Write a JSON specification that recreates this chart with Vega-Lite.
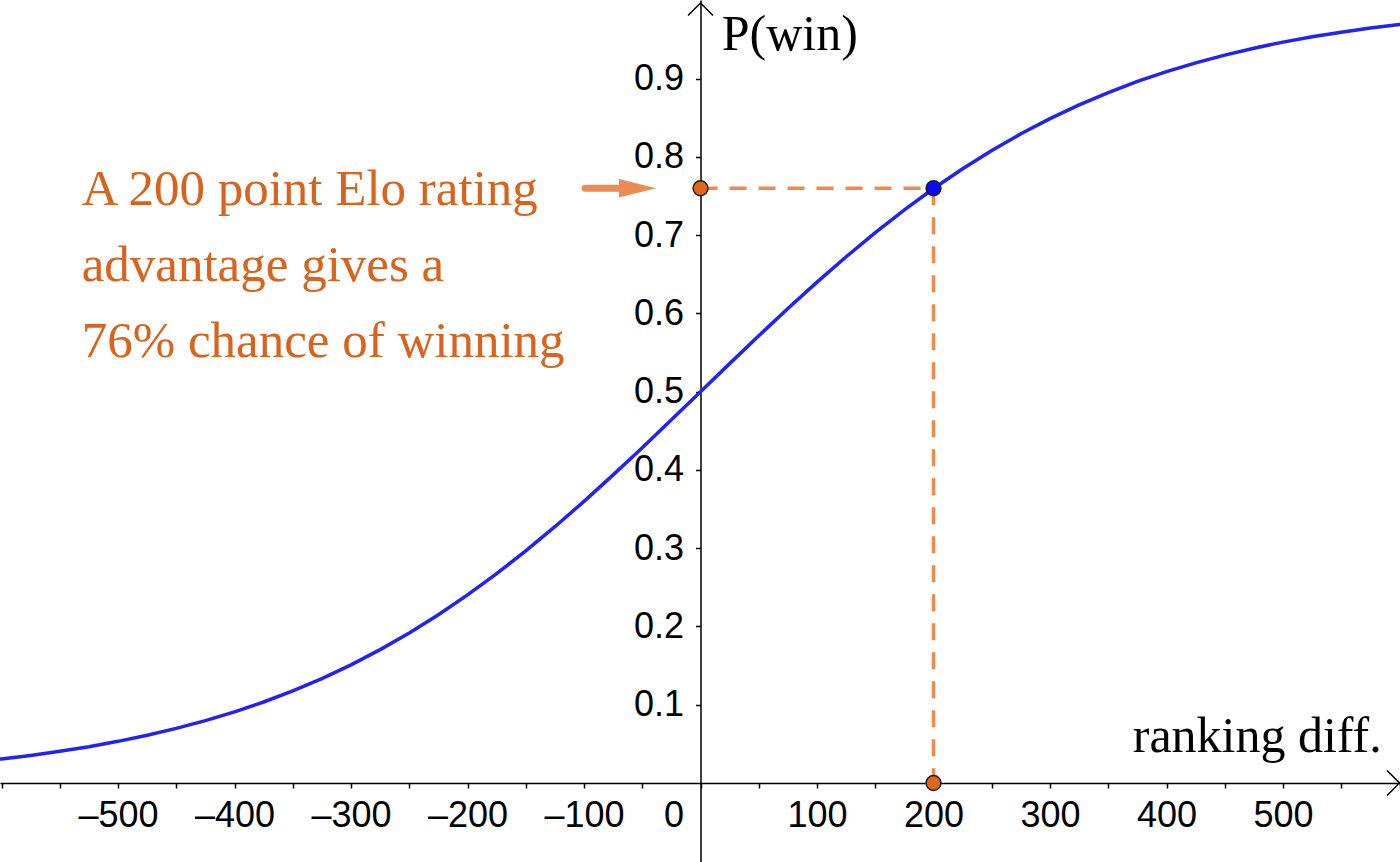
{
  "$schema": "https://vega.github.io/schema/vega-lite/v6.json",
  "width": 1400,
  "height": 862,
  "autosize": {"type": "none"},
  "padding": 0,
  "background": "white",
  "config": {"view": {"stroke": null}},
  "datasets": {
    "curve": [
      {"x": -625, "p": 0.0267}, {"x": -600, "p": 0.0307}, {"x": -575, "p": 0.0352}, {"x": -550, "p": 0.0405},
      {"x": -525, "p": 0.0464}, {"x": -500, "p": 0.0532}, {"x": -475, "p": 0.0610}, {"x": -450, "p": 0.0698},
      {"x": -425, "p": 0.0797}, {"x": -400, "p": 0.0909}, {"x": -375, "p": 0.1035}, {"x": -350, "p": 0.1177},
      {"x": -325, "p": 0.1334}, {"x": -300, "p": 0.1510}, {"x": -275, "p": 0.1704}, {"x": -250, "p": 0.1917},
      {"x": -225, "p": 0.2150}, {"x": -200, "p": 0.2403}, {"x": -175, "p": 0.2675}, {"x": -150, "p": 0.2966},
      {"x": -125, "p": 0.3275}, {"x": -100, "p": 0.3599}, {"x": -75, "p": 0.3937}, {"x": -50, "p": 0.4285},
      {"x": -25, "p": 0.4641}, {"x": 0, "p": 0.5}, {"x": 25, "p": 0.5359}, {"x": 50, "p": 0.5715},
      {"x": 75, "p": 0.6063}, {"x": 100, "p": 0.6401}, {"x": 125, "p": 0.6725}, {"x": 150, "p": 0.7034},
      {"x": 175, "p": 0.7325}, {"x": 200, "p": 0.7597}, {"x": 225, "p": 0.7850}, {"x": 250, "p": 0.8083},
      {"x": 275, "p": 0.8296}, {"x": 300, "p": 0.8490}, {"x": 325, "p": 0.8666}, {"x": 350, "p": 0.8823},
      {"x": 375, "p": 0.8965}, {"x": 400, "p": 0.9091}, {"x": 425, "p": 0.9203}, {"x": 450, "p": 0.9302},
      {"x": 475, "p": 0.9390}, {"x": 500, "p": 0.9468}, {"x": 525, "p": 0.9536}, {"x": 550, "p": 0.9595},
      {"x": 575, "p": 0.9648}, {"x": 600, "p": 0.9693}, {"x": 625, "p": 0.9733}
    ],
    "guides": [
      {"x": 0, "p": 0.76, "x2": 200, "p2": 0.76},
      {"x": 200, "p": 0.76, "x2": 200, "p2": 0}
    ],
    "points": [
      {"x": 0, "p": 0.76, "kind": "axis"},
      {"x": 200, "p": 0, "kind": "axis"},
      {"x": 200, "p": 0.76, "kind": "curve"}
    ],
    "titles": [
      {"x": 18.2, "p": 0.9366, "label": "P(win)"},
      {"x": 371, "p": 0.0396, "label": "ranking diff."}
    ],
    "note": [
      {"x": -531.2, "p": 0.7386, "lines": ["A 200 point Elo rating", "advantage gives a", "76% chance of winning"]}
    ]
  },
  "layer": [
    {
      "data": {"name": "curve"},
      "mark": {"type": "line", "color": "#2222F5", "strokeWidth": 3.5, "clip": true},
      "encoding": {
        "x": {
          "field": "x", "type": "quantitative",
          "scale": {"domain": [-601.3, 600.4], "nice": false, "zero": false},
          "axis": {
            "orient": "bottom", "offset": -79, "title": null, "grid": false,
            "values": [-600, -550, -500, -450, -400, -350, -300, -250, -200, -150, -100, -50, 0, 50, 100, 150, 200, 250, 300, 350, 400, 450, 500, 550, 600],
            "labelExpr": "(datum.value % 100 != 0 || abs(datum.value) > 500) ? '' : (datum.value < 0 ? '–' + abs(datum.value) : '' + datum.value)",
            "labelOverlap": false, "labelFlush": false, "labelBound": false,
            "labelFont": "Liberation Sans", "labelFontSize": 36, "labelColor": "#000",
            "labelPadding": 10,
            "labelOffset": {"condition": {"test": "datum.value == 0", "value": -27}, "value": 0},
            "tickSize": 5, "tickWidth": 1.5, "tickColor": "#000",
            "domainColor": "#000", "domainWidth": 1.5
          }
        },
        "y": {
          "field": "p", "type": "quantitative",
          "scale": {"domain": [-0.101, 1.0006], "nice": false, "zero": false},
          "axis": {
            "orient": "left", "offset": -700.5, "title": null, "grid": false,
            "values": [0.1, 0.2, 0.3, 0.4, 0.5, 0.6, 0.7, 0.8, 0.9],
            "format": ".1f",
            "labelOverlap": false, "labelFlush": false, "labelBound": false,
            "labelFont": "Liberation Sans", "labelFontSize": 36, "labelColor": "#000",
            "labelPadding": 12,
            "tickSize": 5, "tickWidth": 1.5, "tickColor": "#000",
            "domainColor": "#000", "domainWidth": 1.5
          }
        }
      }
    },
    {
      "data": {"name": "guides"},
      "mark": {"type": "rule", "color": "#EE8A4C", "strokeWidth": 3.5, "strokeDash": [17, 12]},
      "encoding": {
        "x": {"field": "x", "type": "quantitative"},
        "y": {"field": "p", "type": "quantitative"},
        "x2": {"field": "x2"},
        "y2": {"field": "p2"}
      }
    },
    {
      "data": {"name": "points"},
      "mark": {"type": "point", "filled": true, "shape": "circle", "size": 220, "stroke": "#1a1a1a", "strokeWidth": 1.5, "opacity": 1},
      "encoding": {
        "x": {"field": "x", "type": "quantitative"},
        "y": {"field": "p", "type": "quantitative"},
        "fill": {"field": "kind", "type": "nominal", "scale": {"domain": ["axis", "curve"], "range": ["#E0661A", "#0A0AFF"]}, "legend": null}
      }
    },
    {
      "data": {"values": [{"x": 600, "p": 0}]},
      "mark": {"type": "point", "filled": false, "shape": "M-1,-1L0,0L-1,1", "size": 625, "color": "#000", "strokeWidth": 1.5, "opacity": 1},
      "encoding": {
        "x": {"field": "x", "type": "quantitative"},
        "y": {"field": "p", "type": "quantitative"}
      }
    },
    {
      "data": {"values": [{"x": 0, "p": 0.9968}]},
      "mark": {"type": "point", "filled": false, "shape": "M-1,1L0,0L1,1", "size": 625, "color": "#000", "strokeWidth": 1.5, "opacity": 1},
      "encoding": {
        "x": {"field": "x", "type": "quantitative"},
        "y": {"field": "p", "type": "quantitative"}
      }
    },
    {
      "data": {"values": [{"x": -99.1, "x2": -67.4, "p": 0.76}]},
      "mark": {"type": "rule", "color": "#EA8D55", "strokeWidth": 7, "strokeCap": "round"},
      "encoding": {
        "x": {"field": "x", "type": "quantitative"},
        "x2": {"field": "x2"},
        "y": {"field": "p", "type": "quantitative"}
      }
    },
    {
      "data": {"values": [{"x": -54.1, "p": 0.76}]},
      "mark": {"type": "point", "filled": true, "shape": "M-1,-0.5L1,0L-1,0.5Z", "size": 1369, "color": "#EA8D55", "opacity": 1},
      "encoding": {
        "x": {"field": "x", "type": "quantitative"},
        "y": {"field": "p", "type": "quantitative"}
      }
    },
    {
      "data": {"name": "titles"},
      "mark": {"type": "text", "align": "left", "baseline": "alphabetic", "font": "Liberation Serif", "fontSize": 50, "color": "#000"},
      "encoding": {
        "x": {"field": "x", "type": "quantitative"},
        "y": {"field": "p", "type": "quantitative"},
        "text": {"field": "label"}
      }
    },
    {
      "data": {"name": "note"},
      "mark": {"type": "text", "align": "left", "baseline": "alphabetic", "font": "Liberation Serif", "fontSize": 51, "lineHeight": 76, "color": "#D9621C"},
      "encoding": {
        "x": {"field": "x", "type": "quantitative"},
        "y": {"field": "p", "type": "quantitative"},
        "text": {"field": "lines"}
      }
    }
  ]
}
